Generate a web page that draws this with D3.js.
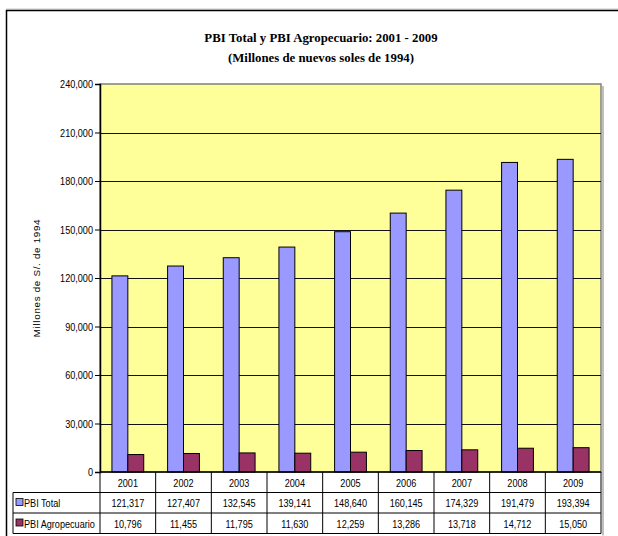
<!DOCTYPE html>
<html>
<head>
<meta charset="utf-8">
<script src="https://cdn.jsdelivr.net/npm/d3@7"></script>
<style>
  body { margin: 0; background: #fff; }
  text { font-family: "Liberation Sans", Arial, sans-serif; }
</style>
</head>
<body>
<div id="chart"></div>
<script>
// data
var years = ["2001", "2002", "2003", "2004", "2005", "2006", "2007", "2008", "2009"];
var pbiTotal = [121317, 127407, 132545, 139141, 148640, 160145, 174329, 191479, 193394];
var pbiAgro = [10796, 11455, 11795, 11630, 12259, 13286, 13718, 14712, 15050];
var seriesNames = ["PBI Total", "PBI Agropecuario"];
var seriesColors = ["#9999ff", "#993366"];
var yTicks = [0, 30000, 60000, 90000, 120000, 150000, 180000, 210000, 240000];

var W = 618, H = 536;
var plot = {left: 100, right: 601, top: 84, bottom: 472};
var rowH = 20.5;
var squeeze = 0.86; // the original text is a narrow face

var svg = d3.select("#chart").append("svg")
  .attr("width", W).attr("height", H);

// narrow text placed at (px, py)
function narrowText(g, px, py, txt, anchor) {
  return g.append("text")
    .attr("transform", "translate(" + px + "," + py + ") scale(" + squeeze + ",1)")
    .attr("text-anchor", anchor || "start")
    .text(txt);
}

// outer chart border (goes past the picture on right / bottom)
svg.append("line").attr("x1", 6).attr("x2", W).attr("y1", 9).attr("y2", 9)
  .attr("stroke", "#c8c8c8");
svg.append("path").attr("d", "M6.5," + H + "V10.5H" + W)
  .attr("fill", "none").attr("stroke", "#000").attr("stroke-width", 1.5);

// title
var title = svg.append("text")
  .attr("text-anchor", "middle")
  .style("font-family", "'Liberation Serif', 'Times New Roman', serif")
  .style("font-weight", "bold")
  .style("font-size", "12.8px");
title.append("tspan").attr("x", 321).attr("y", 42).text("PBI Total y PBI Agropecuario: 2001 - 2009");
title.append("tspan").attr("x", 321).attr("y", 62).text("(Millones de nuevos soles de 1994)");

var x = d3.scaleBand().domain(years).range([plot.left, plot.right]);
var x1 = d3.scaleBand().domain([0, 1]).range([0, x.bandwidth()]).paddingInner(0).paddingOuter(0.75);
var y = d3.scaleLinear().domain([0, 240000]).range([plot.bottom, plot.top]);

// plot background + shadow
svg.append("rect").attr("x", plot.right + 1).attr("y", plot.top + 2)
  .attr("width", 2).attr("height", plot.bottom - plot.top + rowH * 3)
  .attr("fill", "#c0c0c0");
svg.append("rect").attr("x", plot.left).attr("y", plot.top)
  .attr("width", plot.right - plot.left).attr("height", plot.bottom - plot.top)
  .attr("fill", "#ffff99").attr("stroke", "#808080").attr("stroke-width", 1.5);

// gridlines
svg.append("g").selectAll("line")
  .data(yTicks.filter(function(d) { return d > 0 && d < 240000; }))
  .enter().append("line")
  .attr("x1", plot.left).attr("x2", plot.right)
  .attr("y1", function(d) { return Math.round(y(d)) + 0.5; })
  .attr("y2", function(d) { return Math.round(y(d)) + 0.5; })
  .attr("stroke", "#111");

// bars
var series = [pbiTotal, pbiAgro];
series.forEach(function(vals, s) {
  svg.append("g").selectAll("rect")
    .data(vals)
    .enter().append("rect")
    .attr("x", function(d, i) { return x(years[i]) + x1(s); })
    .attr("y", function(d) { return y(d); })
    .attr("width", x1.bandwidth())
    .attr("height", function(d) { return y(0) - y(d); })
    .attr("fill", seriesColors[s])
    .attr("stroke", "#000").attr("stroke-width", 1);
});

// y axis
var yAxis = svg.append("g")
  .attr("transform", "translate(" + plot.left + ",0)")
  .call(d3.axisLeft(y).tickValues(yTicks).tickSize(5).tickPadding(2)
    .tickFormat(d3.format(",")));
yAxis.select(".domain").attr("stroke", "#000").attr("stroke-width", 1.5);
yAxis.selectAll("text").style("font-size", "10.6px").attr("fill", "#000")
  .attr("x", null).attr("dy", null)
  .attr("transform", "translate(-7,3.8) scale(" + squeeze + ",1)");

svg.append("text")
  .attr("transform", "translate(40," + ((plot.top + plot.bottom) / 2) + ") rotate(-90)")
  .attr("text-anchor", "middle")
  .style("font-size", "9.8px").style("letter-spacing", "0.7px")
  .text("Millones de S/. de 1994");

// data table
var tbl = svg.append("g").style("font-size", "10.6px");
var tableLeft = 13;
var rows = [plot.bottom, plot.bottom + rowH, plot.bottom + rowH * 2, plot.bottom + rowH * 3];

// horizontal lines
tbl.append("line").attr("x1", plot.left).attr("x2", plot.right)
  .attr("y1", rows[0]).attr("y2", rows[0]).attr("stroke", "#000").attr("stroke-width", 1.5);
[rows[1], rows[2], rows[3]].forEach(function(yy) {
  tbl.append("line").attr("x1", tableLeft).attr("x2", plot.right)
    .attr("y1", yy).attr("y2", yy).attr("stroke", "#000");
});
// vertical lines
years.forEach(function(yr) {
  tbl.append("line").attr("x1", x(yr)).attr("x2", x(yr))
    .attr("y1", rows[0]).attr("y2", rows[3]).attr("stroke", "#000");
});
tbl.append("line").attr("x1", plot.right).attr("x2", plot.right)
  .attr("y1", rows[0]).attr("y2", rows[3]).attr("stroke", "#000");
tbl.append("line").attr("x1", tableLeft).attr("x2", tableLeft)
  .attr("y1", rows[1]).attr("y2", rows[3]).attr("stroke", "#000");

// year labels
years.forEach(function(yr) {
  narrowText(tbl, x(yr) + x.bandwidth() / 2, rows[0] + 14.5, yr, "middle");
});

series.forEach(function(vals, s) {
  var ry = rows[s + 1];
  tbl.append("rect").attr("x", 16).attr("y", ry + 6)
    .attr("width", 7).attr("height", 7)
    .attr("fill", seriesColors[s]).attr("stroke", "#000").attr("stroke-width", 0.8);
  narrowText(tbl, 24, ry + 14.5, seriesNames[s]);
  vals.forEach(function(v, i) {
    narrowText(tbl, x(years[i]) + x.bandwidth() / 2, ry + 14.5, d3.format(",")(v), "middle");
  });
});
</script>
</body>
</html>
